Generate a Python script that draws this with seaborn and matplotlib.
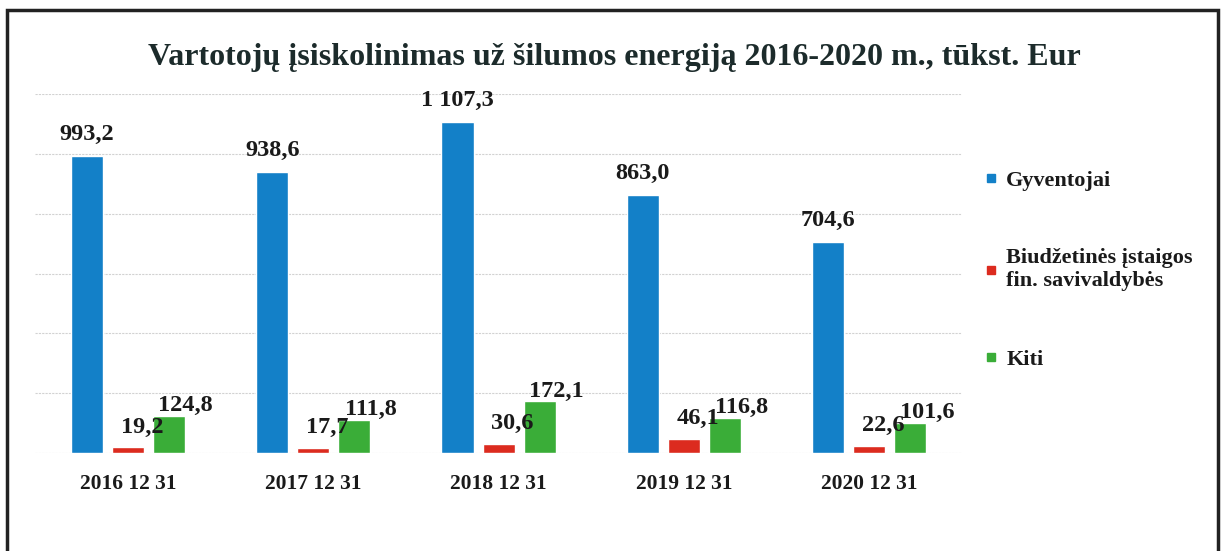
import numpy as np
import pandas as pd
import matplotlib.pyplot as plt
import seaborn as sb
from matplotlib.lines import Line2D
from matplotlib.patches import Rectangle

sb.set_style("white")
plt.rcParams['font.family'] = ['Liberation Serif', 'DejaVu Serif']
plt.rcParams['font.weight'] = 'bold'

# duomenys
dates = ["2016 12 31", "2017 12 31", "2018 12 31", "2019 12 31", "2020 12 31"]
groups = ["Gyventojai", "Biudžetinės įstaigos\nfin. savivaldybės", "Kiti"]
gyventojai = [993.2, 938.6, 1107.3, 863.0, 704.6]
biudzetines = [19.2, 17.7, 30.6, 46.1, 22.6]
kiti = [124.8, 111.8, 172.1, 116.8, 101.6]
colors = ["#1380c8", "#dc2b1f", "#3aad38"]

df = pd.DataFrame({
    "data": dates * 3,
    "grupe": [groups[0]] * 5 + [groups[1]] * 5 + [groups[2]] * 5,
    "suma": gyventojai + biudzetines + kiti,
})

fig = plt.figure(figsize=(12.22, 5.51), dpi=100)
ax = fig.add_axes([0.029, 0.178, 0.758, 0.651])

sb.barplot(data=df, x="data", y="suma", hue="grupe", palette=colors,
           width=0.665, gap=0.22, ax=ax, legend=False, saturation=1)

ax.set_ylim(0, 1200)
ax.set_yticks(np.arange(0, 1201, 200))
ax.set_yticklabels([])
ax.yaxis.grid(True, color="#d2d2d2", linestyle=(0, (2, 1)), linewidth=0.8)
ax.set_axisbelow(True)
for s in ax.spines.values():
    s.set_visible(False)
ax.tick_params(axis="x", length=0, pad=15, labelsize=15.5, labelcolor="#1a1a1a")
ax.tick_params(axis="y", length=0)
ax.set_xlabel("")
ax.set_ylabel("")

def fmt(v):
    s = f"{v:,.1f}".replace(",", " ").replace(".", ",")
    return s

# reiksmiu etiketes
offsets = [(0, 8), (10, 7), (12, 0)]
for cont, off in zip(ax.containers, offsets):
    anns = ax.bar_label(cont, labels=[fmt(b.get_height()) for b in cont],
                        padding=0, fontsize=17.5, fontweight="bold", color="#1a1a1a")
    for a in anns:
        a.xyann = off

handles = [Line2D([], [], marker="s", linestyle="", markersize=6, color=c) for c in colors]
leg = ax.legend(handles, groups, loc="center left", bbox_to_anchor=(1.0, 0.51),
                frameon=False, fontsize=16, labelspacing=2.6, handletextpad=0.3,
                handlelength=0.8, borderaxespad=0.5)
for t in leg.get_texts():
    t.set_color("#1a1a1a")

fig.text(0.503, 0.882, "Vartotojų įsiskolinimas už šilumos energiją 2016-2020 m., tūkst. Eur",
         ha="center", va="baseline", fontsize=23, fontweight="bold", color="#1c2b2b")

fig.add_artist(Rectangle((0.006, -0.05), 0.991, 1.032, transform=fig.transFigure,
                         fill=False, edgecolor="#222222", linewidth=2.5))

fig.savefig("out.png", dpi=100, facecolor="white")
